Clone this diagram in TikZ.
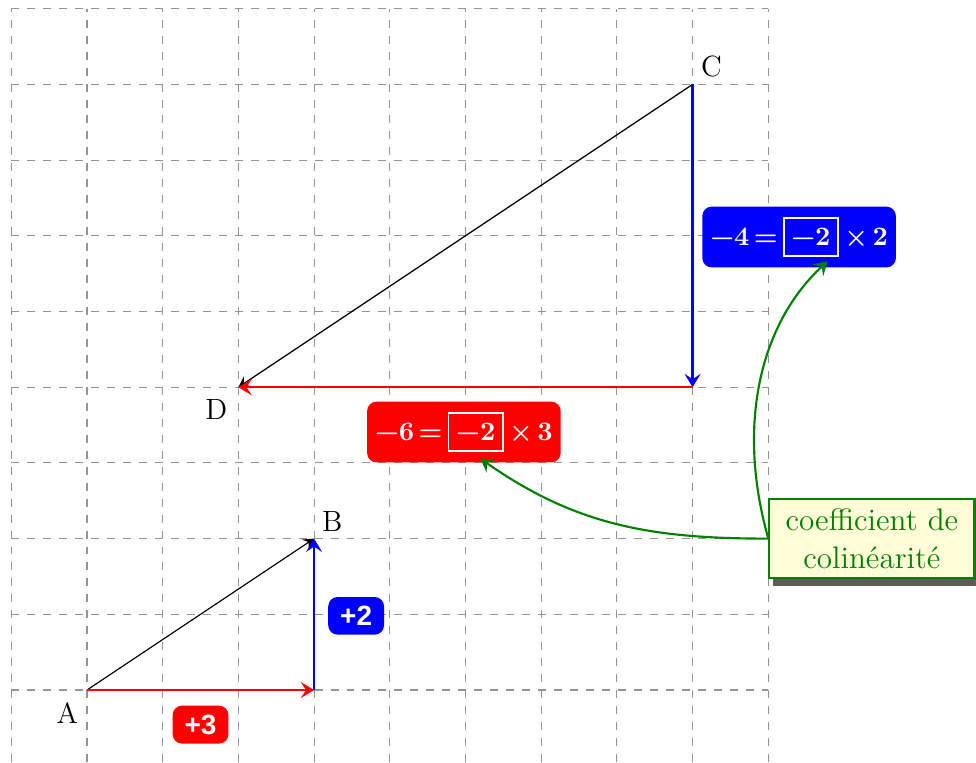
\documentclass[tikz,border=0pt]{standalone}
\usepackage{fontspec}
\newfontfamily\lblsans{Liberation Sans}
\usetikzlibrary{shadows,fit,arrows.meta}
\pgfdeclarelayer{gridlayer}
\pgfdeclarelayer{boxlayer}
\pgfsetlayers{gridlayer,boxlayer,main}
\definecolor{cgreen}{RGB}{0,128,0}
\definecolor{noteyellow}{RGB}{255,252,215}
\begin{document}
\begin{tikzpicture}[x=1cm,y=1cm,
  gridline/.style={gray!85, dashed, line width=0.4pt},
  vec/.style={-{Stealth[length=5pt,width=6pt,inset=2pt]}, line width=0.9pt},
  thinvec/.style={-{Stealth[length=4pt,width=4.5pt,inset=1.6pt]}, line width=0.45pt},
  ptlabel/.style={font=\fontsize{11}{13}\selectfont, inner sep=0pt},
  tagbox/.style={rounded corners=3.5pt, text=white, inner xsep=4.5pt, inner ysep=3.4pt, font=\fontsize{10.5}{12}\lblsans\bfseries},
  eqtxt/.style={text=white, inner sep=0pt, font=\fontsize{10}{12}\selectfont\bfseries},
  innerbox/.style={draw=white, line width=0.6pt, text=white, inner sep=0pt,
    minimum width=0.72cm, minimum height=0.5cm, font=\fontsize{10}{12}\selectfont\bfseries},
  eqback/.style={rounded corners=3.5pt, inner xsep=2.8pt, inner ysep=4pt},
  note/.style={draw=cgreen, line width=0.8pt, fill=noteyellow, text=cgreen, align=center,
    font=\fontsize{11.7}{14.3}\selectfont, minimum width=2.71cm, minimum height=1.04cm, inner sep=2pt,
    drop shadow={shadow xshift=1.5pt, shadow yshift=-3pt, fill=black!80, opacity=0.8}},
  link/.style={-{Stealth[length=5pt,width=6pt,inset=2pt]}, cgreen, line width=0.8pt}
]
\useasboundingbox (-1.149,-0.951) rectangle (11.744,9.115);
\begin{pgfonlayer}{gridlayer}
\draw[gridline] (-1,-0.951) grid (9,9);
\end{pgfonlayer}

\coordinate (A) at (0,0);
\coordinate (H1) at (3,0);
\coordinate (B) at (3,2);
\coordinate (C) at (8,8);
\coordinate (H2) at (8,4);
\coordinate (D) at (2,4);

\draw[thinvec] (A) -- (B);
\draw[vec, red] (A) -- (H1);
\draw[vec, blue] (H1) -- (B);
\draw[thinvec] (C) -- (D);
\draw[vec, blue] (C) -- (H2);
\draw[vec, red] (H2) -- (D);

\node[ptlabel] (lA) at (-0.26,-0.30) {A};
\node[ptlabel] (lB) at (3.24,2.23) {B};
\node[ptlabel] (lC) at (8.25,8.24) {C};
\node[ptlabel] (lD) at (1.71,3.71) {D};

\node[tagbox, fill=red, anchor=north] (t3) at (1.5,-0.2) {+3};
\node[tagbox, fill=blue, anchor=west] (t2) at (3.18,0.98) {+2};

% red equality  -6 = [-2] x 3
\node[innerbox] (e6b) at (5.136,3.408) {−2};
\node[eqtxt, anchor=east] (e6l) at ([xshift=-1.8pt]e6b.west) {−6\,=};
\node[eqtxt, anchor=west] (e6r) at ([xshift=1.8pt]e6b.east) {×\,3};
% blue equality  -4 = [-2] x 2
\node[innerbox] (e4b) at (9.564,5.984) {−2};
\node[eqtxt, anchor=east] (e4l) at ([xshift=-1.8pt]e4b.west) {−4\,=};
\node[eqtxt, anchor=west] (e4r) at ([xshift=1.8pt]e4b.east) {×\,2};
\begin{pgfonlayer}{boxlayer}
\node[eqback, fill=red, fit=(e6l)(e6b)(e6r)] (e6) {};
\node[eqback, fill=blue, fit=(e4l)(e4b)(e4r)] (e4) {};
\end{pgfonlayer}

\node[note, anchor=west] (G) at (9,2) {coefficient de\\colinéarité};

\coordinate (rt) at ([shift={(0.06,-0.09)}]e6b.south);
\coordinate (bt) at ([shift={(0.22,-0.06)}]e4b.south);
\draw[link] (G.west) to[out=180,in=-35] (rt);
\draw[link] (G.west) .. controls (8.55,3.6) and (8.95,4.9) .. (bt);
\end{tikzpicture}
\end{document}
